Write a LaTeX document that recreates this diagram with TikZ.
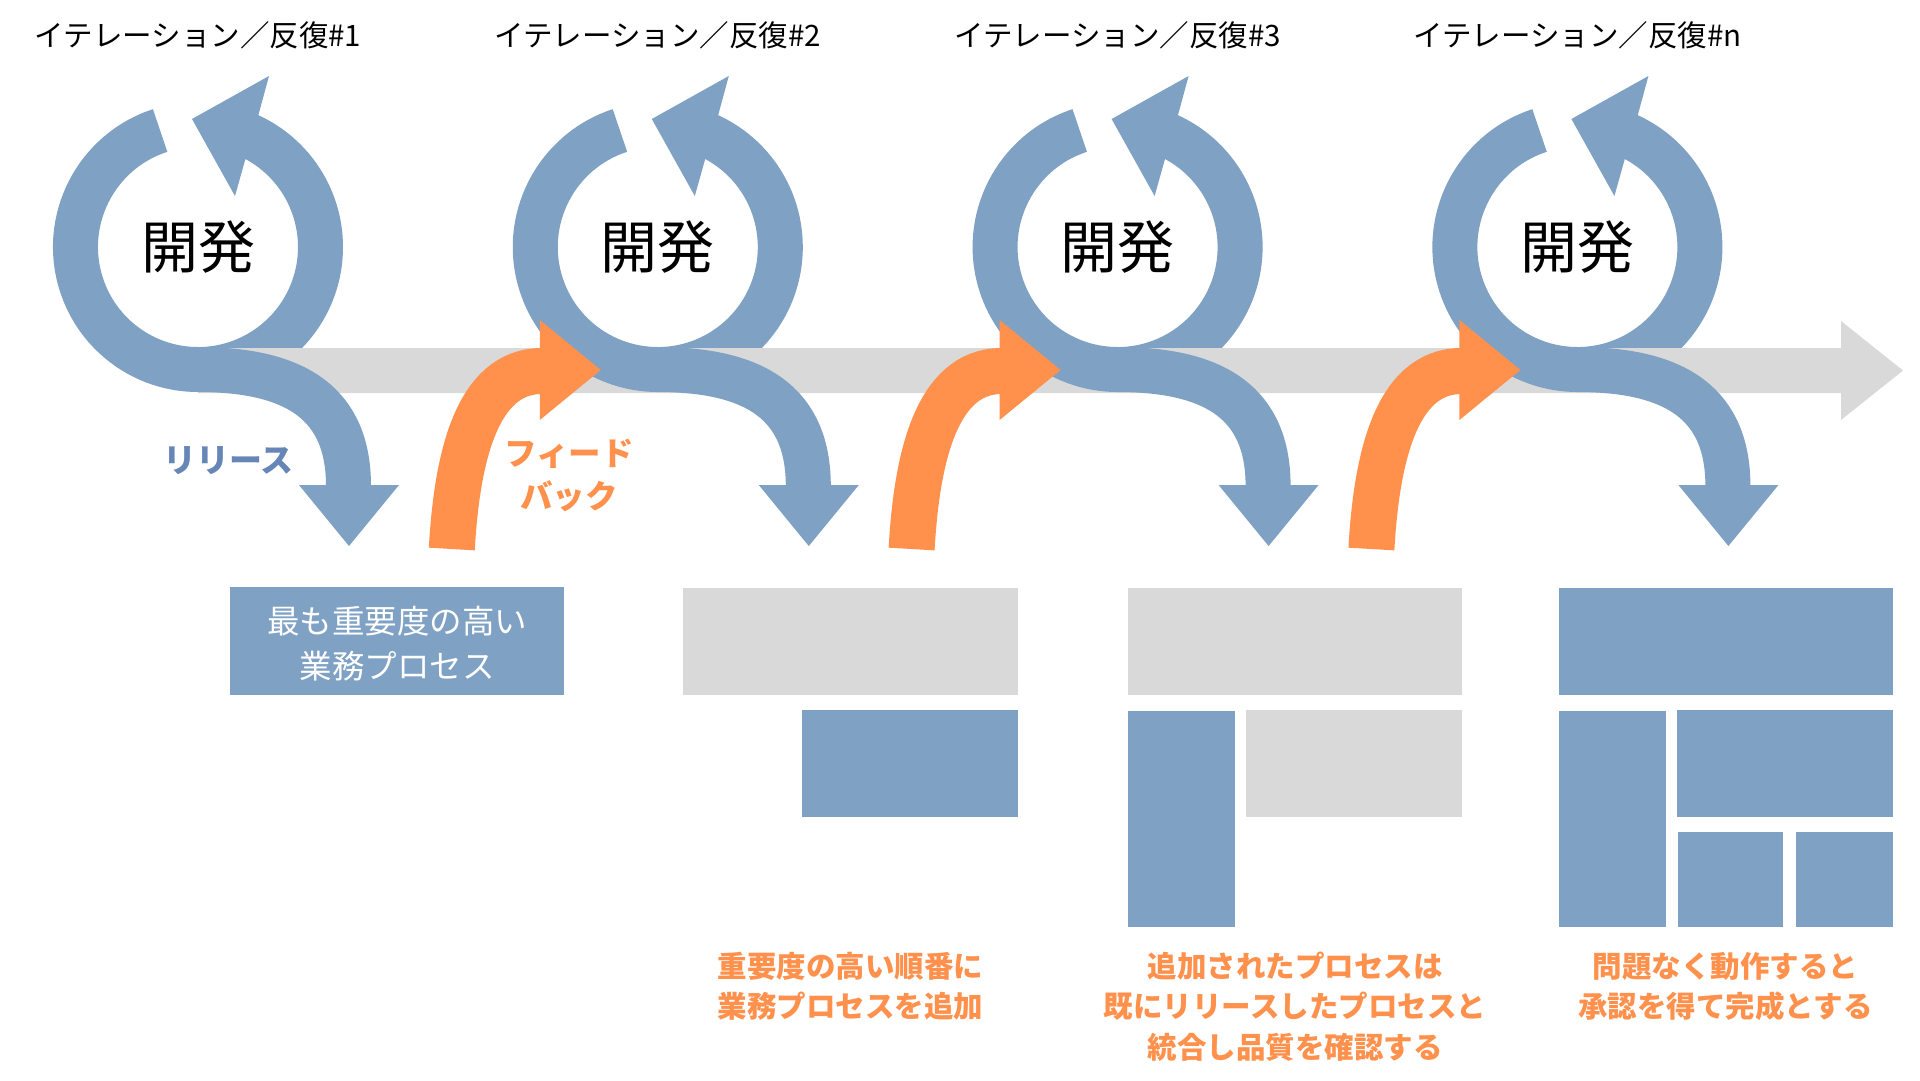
\documentclass[tikz,border=0pt]{standalone}
\usepackage{fontspec}
\setmainfont{Noto Sans CJK JP}
\definecolor{loopblue}{HTML}{7FA1C4}
\definecolor{bargrey}{HTML}{D9D9D9}
\definecolor{fborange}{HTML}{FF914D}
\definecolor{reltext}{HTML}{6686B8}
\tikzset{
  looppart/.style={fill=loopblue},
  loopband/.style={draw=loopblue, line width=45pt},
  fbband/.style={draw=fborange, line width=46pt},
  fbhead/.style={fill=fborange},
  titletext/.style={font=\fontsize{29.5}{34}\selectfont, text=black, inner sep=0pt},
  devtext/.style={font=\fontsize{57}{64}\selectfont, text=black, inner sep=0pt},
  captext/.style={font=\fontsize{29.5}{40.5}\selectfont\bfseries, text=fborange, align=center, inner sep=0pt},
  bluebox/.style={fill=loopblue},
  greybox/.style={fill=bargrey},
}
\begin{document}
\begin{tikzpicture}[x=1pt,y=1pt]
\useasboundingbox (0,0) rectangle (1920,-1080);
\fill[white] (0,0) rectangle (1920,-1080);

% right halves of the loops (under the timeline bar)
\foreach \cx in {198,657.8,1117.6,1577.4} {
  \fill[looppart] (\cx,-392) arc[start angle=-90,end angle=65.4,radius=145]
    -- (\cx+71,-76) -- (\cx-6,-119) -- (\cx+37,-196) -- (\cx+47.4,-159)
    arc[start angle=61.7,end angle=-90,radius=100] -- cycle;
}

% timeline bar
\fill[bargrey] (198,-348) -- (1841,-348) -- (1841,-321) -- (1903,-370.5)
  -- (1841,-420) -- (1841,-393) -- (198,-393) -- cycle;

% left halves of loops + release arrows
\foreach \cx in {198,657.8,1117.6,1577.4} {
  \draw[loopband] (\cx-37.86,-130.5) arc[start angle=108,end angle=270,radius=122.5]
    .. controls (\cx+100,-369.5) and (\cx+150.5,-405) .. (\cx+150.5,-486);
  \fill[looppart] (\cx+101,-485) -- (\cx+201,-485) -- (\cx+151,-546) -- cycle;
}

% feedback arrows
\foreach \cx in {657.8,1117.6,1577.4} {
  \draw[fbband] (\cx-206,-549) .. controls (\cx-201,-460) and (\cx-182,-371) .. (\cx-116,-371);
  \fill[fbhead] (\cx-118,-320) -- (\cx-57,-370) -- (\cx-118,-420) -- cycle;
}

% titles and loop labels
\foreach \cx/\lab in {198/1,657.8/2,1117.6/3,1577.4/n} {
  \node[titletext] (t\lab) at (\cx,-35) {イテレーション／反復\#\lab};
  \node[devtext] (d\lab) at (\cx,-247) {開発};
}

\node[font=\fontsize{33}{36}\selectfont\bfseries, text=reltext, inner sep=0pt] (rel) at (228.5,-461) {リリース};
\node[font=\fontsize{32.5}{43}\selectfont\bfseries, text=fborange, align=center, inner sep=0pt] (fb) at (569,-475.5) {フィード\\バック};

% iteration 1 box
\fill[bluebox] (230,-587) rectangle (564,-695);
\node[font=\fontsize{32.5}{45}\selectfont, text=white, align=center, inner sep=0pt] (b1) at (397,-643.5) {最も重要度の高い\\業務プロセス};

% iteration 2 boxes
\fill[greybox] (683.3,-588) rectangle (1017.7,-695);
\fill[bluebox] (801.7,-710) rectangle (1017.7,-817);

% iteration 3 boxes
\fill[greybox] (1128,-588) rectangle (1462.3,-695);
\fill[bluebox] (1128,-711) rectangle (1235,-927);
\fill[greybox] (1246,-710) rectangle (1462.3,-817);

% iteration n boxes
\fill[bluebox] (1558.7,-588) rectangle (1893,-695);
\fill[bluebox] (1558.7,-711) rectangle (1665.7,-927);
\fill[bluebox] (1677,-710) rectangle (1893,-817);
\fill[bluebox] (1678,-832) rectangle (1783.3,-927);
\fill[bluebox] (1796,-832) rectangle (1893,-927);

% captions
\node[captext] (c2) at (850.5,-986.3) {重要度の高い順番に\\業務プロセスを追加};
\node[captext] (c3) at (1295,-1006.5) {追加されたプロセスは\\既にリリースしたプロセスと\\統合し品質を確認する};
\node[captext] (c4) at (1725.5,-986.3) {問題なく動作すると\\承認を得て完成とする};
\end{tikzpicture}
\end{document}
